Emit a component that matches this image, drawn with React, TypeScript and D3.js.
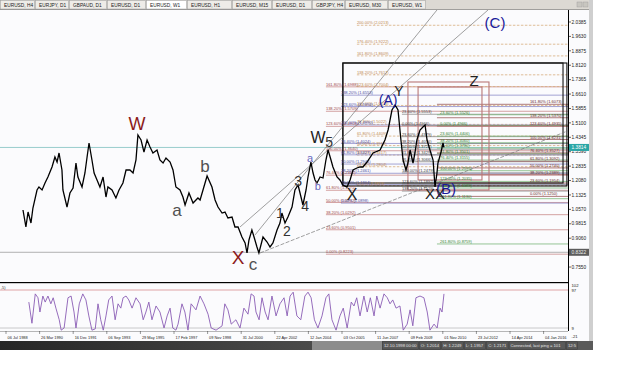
import React from "react";
import * as d3 from "d3";

// ---------- DATA ----------
const tabLabels = ["EURUSD, H4", "EURJPY, D1", "GBPAUD, D1", "EURUSD, D1", "EURUSD, W1", "EURUSD, H1", "EURUSD, M15", "EURUSD, D1", "GBPJPY, H4", "EURUSD, M30", "EURUSD, W1"];
const activeTab = 4;

// [decimal year, price]
const pricePoints: [number, number][] = [
  [1989.38, 1.0537], [1989.53, 0.9647], [1989.64, 1.0432], [1989.79, 0.9856], [1989.89, 1.0642], [1990.10, 1.1585], [1990.20, 1.1742], [1990.36, 1.1585], [1990.51, 1.1951], [1990.66, 1.2266],
  [1990.87, 1.2790], [1991.02, 1.3313], [1991.13, 1.3051], [1991.23, 1.3523], [1991.38, 1.2632], [1991.43, 1.1585], [1991.64, 1.0694], [1991.79, 1.1428], [1991.95, 1.1690], [1992.10, 1.2999],
  [1992.20, 1.2266], [1992.41, 1.1742], [1992.56, 1.2475], [1992.67, 1.3313], [1992.77, 1.4047], [1992.92, 1.3156], [1993.03, 1.2475], [1993.18, 1.2109], [1993.33, 1.1742], [1993.49, 1.2266],
  [1993.64, 1.1218], [1993.74, 1.1742], [1993.95, 1.1585], [1994.15, 1.1166], [1994.31, 1.1585], [1994.51, 1.1951], [1994.67, 1.2632], [1994.87, 1.2632], [1995.03, 1.2475], [1995.18, 1.3156],
  [1995.28, 1.4466], [1995.44, 1.4204], [1995.59, 1.3575], [1995.75, 1.4204], [1995.90, 1.3837], [1996.05, 1.3523], [1996.26, 1.3680], [1996.41, 1.3156], [1996.57, 1.2999], [1996.72, 1.3261],
  [1996.93, 1.3051], [1997.08, 1.2632], [1997.23, 1.1742], [1997.44, 1.1585], [1997.59, 1.1218], [1997.70, 1.0799], [1997.90, 1.1428], [1998.11, 1.0904], [1998.36, 1.1166], [1998.47, 1.1061],
  [1998.62, 1.1585], [1998.83, 1.2318], [1999.08, 1.1742], [1999.24, 1.1061], [1999.39, 1.0694], [1999.60, 1.0380], [1999.75, 1.0432], [1999.90, 1.0118], [2000.11, 1.0170], [2000.26, 0.9647],
  [2000.42, 0.9647], [2000.62, 0.9123], [2000.78, 0.8809], [2000.88, 0.8285], [2000.98, 0.8966], [2001.13, 0.9490], [2001.24, 0.9123], [2001.39, 0.8599], [2001.49, 0.8285], [2001.70, 0.9123],
  [2001.91, 0.8861], [2002.06, 0.8599], [2002.21, 0.8809], [2002.42, 0.9490], [2002.57, 0.9856], [2002.67, 1.0380], [2002.83, 0.9856], [2002.98, 1.0170], [2003.19, 1.0694], [2003.34, 1.1585],
  [2003.50, 1.1847], [2003.65, 1.1218], [2003.75, 1.0799], [2003.91, 1.1585], [2004.01, 1.2266], [2004.16, 1.3051], [2004.27, 1.2475], [2004.37, 1.2109], [2004.47, 1.1951], [2004.63, 1.2266],
  [2004.78, 1.2213], [2004.93, 1.3156], [2005.04, 1.3680], [2005.19, 1.3156], [2005.29, 1.2790], [2005.50, 1.2266], [2005.65, 1.2109], [2005.80, 1.1847], [2006.01, 1.1742], [2006.17, 1.2109],
  [2006.32, 1.2632], [2006.52, 1.2737], [2006.68, 1.2790], [2006.83, 1.2790], [2007.04, 1.3051], [2007.35, 1.3523], [2007.71, 1.3680], [2007.96, 1.4204], [2008.12, 1.4728], [2008.32, 1.5775],
  [2008.48, 1.6037], [2008.63, 1.5775], [2008.78, 1.4204], [2008.89, 1.3156], [2009.04, 1.2632], [2009.14, 1.2999], [2009.25, 1.3680], [2009.40, 1.2999], [2009.50, 1.3523], [2009.60, 1.4204],
  [2009.76, 1.4728], [2009.91, 1.4885], [2010.02, 1.4990], [2010.12, 1.4204], [2010.27, 1.3680], [2010.43, 1.3156], [2010.53, 1.1742], [2010.63, 1.2475], [2010.68, 1.2999], [2010.84, 1.3575],
  [2010.94, 1.4047], [2010.99, 1.3814],
];

// [decimal year, oscillator value]
const oscPoints: [number, number][] = [
  [1989.68, 69], [1989.84, 20], [1990.01, 88], [1990.15, 79], [1990.25, 46], [1990.40, 83], [1990.52, 69], [1990.66, 83], [1990.81, 65], [1990.93, 79],
  [1991.07, 55], [1991.24, 28], [1991.34, 4], [1991.49, 9], [1991.69, 79], [1991.85, 83], [1992.00, 46], [1992.10, 9], [1992.27, 65], [1992.45, 88],
  [1992.61, 74], [1992.76, 37], [1992.92, 4], [1993.09, 7], [1993.23, 65], [1993.37, 28], [1993.50, 4], [1993.64, 37], [1993.78, 74], [1993.95, 83],
  [1994.11, 28], [1994.26, 65], [1994.40, 55], [1994.52, 79], [1994.67, 83], [1994.81, 74], [1994.98, 55], [1995.18, 79], [1995.39, 65], [1995.55, 28],
  [1995.69, 46], [1995.84, 69], [1996.00, 28], [1996.21, 60], [1996.41, 46], [1996.62, 9], [1996.78, 37], [1996.93, 55], [1997.07, 9], [1997.23, 4],
  [1997.34, 18], [1997.54, 65], [1997.69, 46], [1997.85, 4], [1998.01, 65], [1998.26, 51], [1998.47, 83], [1998.67, 65], [1998.88, 41], [1999.04, 9],
  [1999.29, 4], [1999.60, 14], [1999.74, 65], [1999.90, 51], [2000.07, 18], [2000.31, 28], [2000.52, 9], [2000.72, 55], [2000.93, 41], [2001.09, 88],
  [2001.24, 83], [2001.34, 46], [2001.50, 28], [2001.65, 79], [2001.81, 46], [2001.96, 28], [2002.16, 83], [2002.37, 37], [2002.57, 65], [2002.78, 79],
  [2002.94, 37], [2003.09, 83], [2003.25, 92], [2003.44, 37], [2003.64, 28], [2003.85, 83], [2004.01, 92], [2004.17, 79], [2004.34, 28], [2004.52, 9],
  [2004.73, 37], [2004.93, 79], [2005.08, 88], [2005.24, 28], [2005.45, 4], [2005.65, 37], [2005.82, 55], [2006.02, 9], [2006.23, 69], [2006.37, 60],
  [2006.51, 79], [2006.68, 37], [2006.88, 83], [2007.05, 46], [2007.21, 79], [2007.40, 37], [2007.54, 83], [2007.71, 55], [2007.91, 88], [2008.08, 79],
  [2008.22, 65], [2008.36, 74], [2008.53, 55], [2008.73, 60], [2008.90, 4], [2009.10, 18], [2009.25, 51], [2009.39, 14], [2009.55, 79], [2009.76, 83],
  [2009.96, 79], [2010.13, 46], [2010.27, 4], [2010.48, 18], [2010.64, 9], [2010.79, 55], [2010.89, 46], [2010.99, 88],
];

const priceTicks = [2.0385, 1.9630, 1.8875, 1.8120, 1.7365, 1.6610, 1.5855, 1.5100, 1.4345, 1.3590, 1.2835, 1.2080, 1.1325, 1.0570, 0.9815, 0.9060, 0.7550];
const currentPrice = 1.3814;
const markedPrice = 0.8322;
const dateLabels = ["06 Jul 1988", "26 Mar 1990", "16 Dec 1991", "06 Sep 1993", "29 May 1995", "17 Feb 1997", "09 Nov 1998", "31 Jul 2000", "22 Apr 2002", "12 Jan 2004", "03 Oct 2005", "11 Jun 2007", "09 Feb 2009", "01 Nov 2010", "23 Jul 2012", "14 Apr 2014", "04 Jan 2016"];
const oscTickLabels = [102, 97, 9, -21];
const oscLevels = [97, 9];

// Fibonacci sets: 0% price, 100% price, levels, label year, line start year
const fibBase = [0.8223, 1.1813, 1.0898, 1.4966, 1.4966, 1.1250];
const fibEnd = [1.3640, 1.6013, 1.4990, 1.2479, 1.2595, 1.4231];
const fibLevelsA = [0, 23.6, 38.2, 50, 61.8, 76.4, 100, 123.6, 138.2, 161.8];
const fibLevelsB = [0, 23.6, 38.2, 50, 61.8, 76.4, 100, 123.6, 138.2, 161.8, 176.4, 200];
const fibLevelsC = [0, 23.6, 38.2, 50, 61.8, 76.4, 100, 123.6, 138.2];
const fibLevelsD = [-23.6, 0, 23.6, 38.2, 50, 61.8, 76.4, 100, 123.6, 138.2];
const fibLevelsE = [-23.6, 0, 23.6, 38.2, 50, 61.8, 76.4, 100, 123.6, 138.2, 161.8, 261.8];
const fibLevelsF = [0, 23.6, 38.2, 50, 61.8, 76.4, 100, 123.6, 138.2, 161.8];
const fibLabelYear = [2004.93, 2006.52, 2005.70, 2008.83, 2010.79, 2015.40];
const fibStartYear = [2004.93, 2006.52, 2005.70, 2008.83, 2010.63, 2010.63];

// Rectangles [year1, price1, year2, price2]
const blackBoxes: [number, number, number, number][] = [[2005.80, 1.8237, 2017.10, 1.1951], [2005.80, 1.8237, 2017.30, 1.1795]];
const redBoxes: [number, number, number, number][] = [[2009.14, 1.7242, 2013.30, 1.1585], [2009.66, 1.6980, 2012.94, 1.2109]];

// Trend lines [year1, price1, year2, price2]
const trendLines: [number, number, number, number][] = [
  [2001.29, 0.9228, 2010.63, 2.1013],
  [2000.52, 0.9647, 2013.25, 2.1013],
  [2001.55, 0.8285, 2017.46, 1.4728],
];

// Wave labels
const waveText = ["W", "a", "b", "X", "c", "1", "2", "3", "4", "a", "b", "W", "5", "X", "(A)", "Y", "Z", "(C)", "(B)", "XX"];
const waveYear = [1995.23, 1997.29, 1998.72, 2000.42, 2001.19, 2002.57, 2002.93, 2003.50, 2003.86, 2004.11, 2004.52, 2004.52, 2005.09, 2006.27, 2008.12, 2008.68, 2012.53, 2013.61, 2011.09, 2010.53];
const wavePrice = [1.4728, 1.0223, 1.2528, 0.7709, 0.7394, 1.0118, 0.9175, 1.1794, 1.0485, 1.3051, 1.1585, 1.4047, 1.3837, 1.1061, 1.6037, 1.6509, 1.7032, 2.0070, 1.1375, 1.1113];

const statusTexts = ["12.10.1998 00:00", "O: 1.2014", "H: 1.2249", "L: 1.1957", "C: 1.2171", "Connected, last ping = 101", "12:5"];

// ---------- STYLE / LAYOUT ----------
const CHART_R = 568;
const MAIN_T = 10, MAIN_B = 282;
const SUB_T = 284, SUB_B = 331;
const tabEdges = [0, 35, 69, 107, 146, 187, 232, 272, 312, 345, 388, 426];
const fibLineColor = ["#c98a8a", "#d7ad7f", "#8c8cc8", "#8a8a8a", "#7ab87a", "#9a5a5a"];
const fibTextColor = ["#a04848", "#c08850", "#4a4aa0", "#404040", "#2f842f", "#6a2a2a"];
const fibDash = ["none", "2.5,1.5", "none", "none", "none", "none"];
const waveColor = ["#8b1a1a", "#505050", "#505050", "#8b1a1a", "#505050", "#333", "#333", "#333", "#333", "#6a6ac0", "#6a6ac0", "#222", "#333", "#222", "#1a1a9a", "#222", "#222", "#1a1a9a", "#1a1a9a", "#222"];
const waveSize = [18, 17, 17, 19, 17, 14, 14, 14, 14, 11, 11, 16, 14, 16, 14, 14, 15, 15, 15, 15];
const oscLabelY = [286.5, 291.5, 329.5, 337.5];
const FONT = "'Liberation Sans', Arial, sans-serif";

export default function App() {
  const xY = d3.scaleLinear().domain([1988.20, 2017.356]).range([0, CHART_R]);
  const yP = d3.scaleLinear().domain([0.6766, 2.1013]).range([MAIN_B, MAIN_T]);
  const yO = d3.scaleLinear().domain([9, 97]).range([328, 290]);
  const xD = d3.scaleLinear().domain([0, dateLabels.length - 1]).range([6, 543.6]);

  const priceLine = d3.line<[number, number]>().x(d => xY(d[0])).y(d => yP(d[1]))(pricePoints) || "";
  const oscLine = d3.line<[number, number]>().x(d => xY(d[0])).y(d => yO(d[1]))(oscPoints) || "";

  const fibSets = [fibLevelsA, fibLevelsB, fibLevelsC, fibLevelsD, fibLevelsE, fibLevelsF];

  let sx = 382;
  const cells = statusTexts.map(t => {
    const w = t.length * 2.05 + 4;
    const c = { x: sx, w, t };
    sx += w;
    return c;
  });

  return (
    <svg width={625} height={390} style={{ position: "absolute", left: 0, top: 0, display: "block" }} fontFamily={FONT}>
      <defs>
        <clipPath id="mainClip"><rect x={0} y={MAIN_T} width={CHART_R} height={MAIN_B - MAIN_T} /></clipPath>
        <clipPath id="subClip"><rect x={0} y={SUB_T} width={CHART_R} height={SUB_B - SUB_T} /></clipPath>
        <linearGradient id="stg" x1="0" x2="1" y1="0" y2="0">
          <stop offset="0" stopColor="#262626" />
          <stop offset="1" stopColor="#4a4a4a" />
        </linearGradient>
      </defs>
      <rect x={0} y={0} width={625} height={390} fill="#ffffff" />
      <rect x={0} y={0} width={590} height={341} fill="#fbfbfd" />
      {/* tab bar */}
      <rect x={0} y={0} width={590} height={10} fill="#dcd9d3" />
      {tabLabels.map((t, i) => (
        <g key={"tab" + i}>
          <rect x={tabEdges[i] + 0.5} y={0.5} width={tabEdges[i + 1] - tabEdges[i] - 1} height={8.5} fill={i === activeTab ? "#ffffff" : "#eeece8"} stroke="#9a9a9a" strokeWidth={0.5} />
          <text x={tabEdges[i] + 4} y={6.8} fontSize={4.8} fill="#222">{t}</text>
        </g>
      ))}
      <rect x={577} y={2} width={5} height={5} fill="#c8c6c0" stroke="#999" strokeWidth={0.4} />
      <rect x={583} y={2} width={5} height={5} fill="#c8c6c0" stroke="#999" strokeWidth={0.4} />
      <line x1={0} x2={590} y1={9.5} y2={9.5} stroke="#777" strokeWidth={0.6} />

      {/* main chart content */}
      <g clipPath="url(#mainClip)">
        <line x1={0} x2={CHART_R} y1={yP(currentPrice)} y2={yP(currentPrice)} stroke="#8cc6c6" strokeWidth={0.9} />
        <line x1={0} x2={CHART_R} y1={yP(markedPrice)} y2={yP(markedPrice)} stroke="#a8a8a8" strokeWidth={0.9} />

        {fibSets.map((levels, gi) => levels.map((lv, li) => {
          const p = fibBase[gi] + (fibEnd[gi] - fibBase[gi]) * lv / 100;
          const y = yP(p);
          return (
            <line key={`fl${gi}-${li}`} x1={xY(fibStartYear[gi])} x2={CHART_R} y1={y} y2={y} stroke={fibLineColor[gi]} strokeWidth={0.8} strokeDasharray={fibDash[gi]} />
          );
        }))}

        {redBoxes.map((b, i) => (
          <rect key={"rb" + i} x={xY(b[0])} y={yP(b[1])} width={xY(b[2]) - xY(b[0])} height={yP(b[3]) - yP(b[1])} fill="none" stroke="#b97878" strokeWidth={1.1} />
        ))}
        {blackBoxes.map((b, i) => (
          <rect key={"bb" + i} x={xY(b[0])} y={yP(b[1])} width={xY(b[2]) - xY(b[0])} height={yP(b[3]) - yP(b[1])} fill="none" stroke="#111" strokeWidth={1.1} />
        ))}

        {trendLines.map((l, i) => (
          <line key={"tl" + i} x1={xY(l[0])} y1={yP(l[1])} x2={xY(l[2])} y2={yP(l[3])} stroke="#777" strokeWidth={0.7} strokeDasharray={i === 2 ? "4,1.5" : "none"} />
        ))}

        {fibSets.map((levels, gi) => levels.map((lv, li) => {
          const p = fibBase[gi] + (fibEnd[gi] - fibBase[gi]) * lv / 100;
          const y = yP(p);
          return (
            <text key={`ft${gi}-${li}`} x={xY(fibLabelYear[gi])} y={y - 0.9} fontSize={4} fill={fibTextColor[gi]}>
              {`${Math.abs(lv).toFixed(2)}% (${p.toFixed(4)})`}
            </text>
          );
        }))}

        <path d={priceLine} fill="none" stroke="#000" strokeWidth={1.3} strokeLinejoin="miter" />

        {waveText.map((t, i) => (
          <text key={"w" + i} x={xY(waveYear[i])} y={yP(wavePrice[i])} fontSize={waveSize[i]} fill={waveColor[i]} textAnchor="middle">{t}</text>
        ))}
      </g>

      {/* price axis */}
      <line x1={CHART_R + 0.5} x2={CHART_R + 0.5} y1={MAIN_T} y2={SUB_B} stroke="#000" strokeWidth={1} />
      {priceTicks.map((p, i) => (
        <g key={"pt" + i}>
          <line x1={CHART_R} x2={CHART_R + 3} y1={yP(p)} y2={yP(p)} stroke="#000" strokeWidth={0.6} />
          <text x={CHART_R + 3.5} y={yP(p) + 1.7} fontSize={4.8} fill="#222">{p.toFixed(4)}</text>
        </g>
      ))}
      <rect x={CHART_R + 1} y={yP(currentPrice) - 3.5} width={20} height={7} fill="#2aa6a6" />
      <text x={CHART_R + 3.5} y={yP(currentPrice) + 1.7} fontSize={4.8} fill="#fff">{currentPrice.toFixed(4)}</text>
      <rect x={CHART_R + 1} y={yP(markedPrice) - 3.5} width={20} height={7} fill="#5c5c5c" />
      <text x={CHART_R + 3.5} y={yP(markedPrice) + 1.7} fontSize={4.8} fill="#eee">{markedPrice.toFixed(4)}</text>

      <line x1={0} x2={CHART_R} y1={MAIN_B + 0.5} y2={MAIN_B + 0.5} stroke="#000" strokeWidth={1.2} />
      <line x1={0} x2={CHART_R} y1={SUB_T - 0.5} y2={SUB_T - 0.5} stroke="#999" strokeWidth={0.5} />

      {/* sub window */}
      <g clipPath="url(#subClip)">
        {oscLevels.map((lv, i) => (
          <line key={"ol" + i} x1={0} x2={CHART_R} y1={yO(lv)} y2={yO(lv)} stroke={i === 0 ? "#d99090" : "#bdbdbd"} strokeWidth={0.8} />
        ))}
        <path d={oscLine} fill="none" stroke="#8a5cb4" strokeWidth={0.9} />
      </g>
      <text x={1} y={289} fontSize={4} fill="#333">,5)</text>
      {oscTickLabels.map((v, i) => (
        <text key={"otl" + i} x={CHART_R + 3.5} y={oscLabelY[i]} fontSize={4.2} fill="#222">{v}</text>
      ))}

      {/* date axis */}
      <line x1={0} x2={CHART_R} y1={SUB_B + 0.5} y2={SUB_B + 0.5} stroke="#888" strokeWidth={0.6} />
      {dateLabels.map((t, i) => (
        <g key={"dl" + i}>
          <line x1={xD(i)} x2={xD(i)} y1={SUB_B} y2={SUB_B + 3} stroke="#333" strokeWidth={0.5} />
          <text x={xD(i) + 1.5} y={338.5} fontSize={3.9} fill="#222">{t}</text>
        </g>
      ))}

      <rect x={589} y={0} width={4} height={350} fill="#cfcfcf" />

      {/* status bar */}
      <rect x={0} y={341} width={312} height={9} fill="url(#stg)" />
      <rect x={312} y={341} width={70} height={9} fill="#8c8c8c" />
      <rect x={382} y={341} width={211} height={9} fill="#5a5a5a" />
      {cells.map((c, i) => (
        <g key={"sc" + i}>
          <rect x={c.x + 0.5} y={341.8} width={c.w - 1} height={7.4} fill="none" stroke="#3a3a3a" strokeWidth={0.5} />
          <text x={c.x + 2} y={347.3} fontSize={4.2} fill="#e4e4e4">{c.t}</text>
        </g>
      ))}
    </svg>
  );
}
